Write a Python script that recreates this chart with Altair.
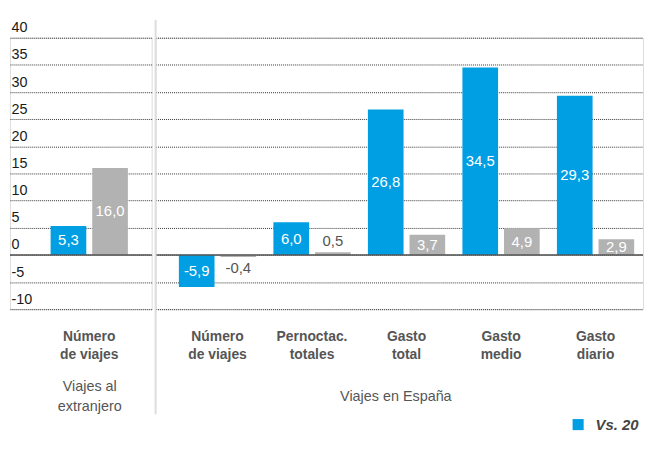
import altair as alt
import pandas as pd

# ---- data ----
series_names = ["Vs. 2019", "Vs. 2023"]
series_colors = ["#009fe3", "#b2b2b2"]

ext_categories = ["Número|de viajes"]
ext_blue = [5.3]
ext_gray = [16.0]

esp_categories = ["Número|de viajes", "Pernoctac.|totales", "Gasto|total", "Gasto|medio", "Gasto|diario"]
esp_blue = [-5.9, 6.0, 26.8, 34.5, 29.3]
esp_gray = [-0.4, 0.5, 3.7, 4.9, 2.9]

y_ticks = [-10, -5, 0, 5, 10, 15, 20, 25, 30, 35, 40]


def make_df(cats, blue, gray):
    rows = []
    for c, b, g in zip(cats, blue, gray):
        rows.append({"cat": c, "series": series_names[0], "value": b})
        rows.append({"cat": c, "series": series_names[1], "value": g})
    return pd.DataFrame(rows)


df_ext = make_df(ext_categories, ext_blue, ext_gray)
df_esp = make_df(esp_categories, esp_blue, esp_gray)

FONT = "Liberation Sans"
LABEL_EXPR = "(datum.value < 0 ? '-' : '') + replace(format(abs(datum.value), '.1f'), '.', ',')"

y_scale = alt.Scale(domain=[-10, 40], nice=False, zero=False)
color_scale = alt.Scale(domain=series_names, range=series_colors)

GRID = dict(grid=True, gridColor="#333333", gridDash=[1, 1], gridWidth=1)


def panel(df, cats, width, scale_x, left_axis, title, title_x, title_pad):
    x_axis = alt.Axis(
        title=title,
        titleX=title_x,
        titleAlign="center",
        titlePadding=title_pad,
        titleFont=FONT,
        titleFontSize=14.5,
        titleFontWeight="normal",
        titleColor="#555555",
        titleLineHeight=20,
        labelExpr="split(datum.label, '|')",
        labelAngle=0,
        labelFont=FONT,
        labelFontSize=14,
        labelFontWeight="bold",
        labelColor="#555555",
        labelLineHeight=18,
        labelPadding=21,
        labelLimit=0,
        ticks=False,
        domain=False,
        grid=False,
    )
    if left_axis:
        y_axis = alt.Axis(
            values=y_ticks,
            title=None,
            labelExpr="toString(datum.value)",
            labelAlign="left",
            labelBaseline="alphabetic",
            labelOffset=-6,
            labelPadding=-1,
            labelFont=FONT,
            labelFontSize=14.5,
            labelColor="#1a1a1a",
            labelFlush=False,
            labelOverlap=False,
            ticks=False,
            tickSize=0,
            domain=False,
            **GRID,
        )
    else:
        y_axis = alt.Axis(
            values=y_ticks,
            title=None,
            labels=False,
            ticks=False,
            tickSize=0,
            domain=False,
            **GRID,
        )

    base = alt.Chart(df).transform_calculate(
        label=LABEL_EXPR,
        mid="datum.value / 2",
    )

    def xx():
        return alt.X("cat:N", sort=cats, scale=scale_x, axis=x_axis)

    def xo():
        return alt.XOffset("series:N", sort=series_names,
                           scale=alt.Scale(paddingInner=0.143, paddingOuter=0))

    bars = base.mark_bar().encode(
        x=xx(),
        xOffset=xo(),
        y=alt.Y("value:Q", scale=y_scale, axis=y_axis),
        color=alt.Color(
            "series:N",
            scale=color_scale,
            legend=alt.Legend(
                title=None,
                values=[series_names[0]],
                orient="none",
                direction="horizontal",
                legendX=566,
                legendY=383,
                symbolType="square",
                symbolSize=125,
                symbolStrokeWidth=0,
                labelFont=FONT,
                labelFontSize=15,
                labelFontWeight="bold",
                labelFontStyle="italic",
                labelColor="#444444",
                labelOffset=10,
                labelLimit=44,
            ),
        ),
    )

    inside = base.transform_filter("abs(datum.value) >= 1").mark_text(
        color="white", font=FONT, fontSize=15, baseline="middle"
    ).encode(
        x=xx(), xOffset=xo(),
        y=alt.Y("mid:Q", scale=y_scale, axis=y_axis),
        text="label:N",
    )

    out_pos = base.transform_filter("datum.value >= 0 && datum.value < 1").mark_text(
        color="#555555", font=FONT, fontSize=15, baseline="bottom", dy=-3
    ).encode(
        x=xx(), xOffset=xo(),
        y=alt.Y("value:Q", scale=y_scale, axis=y_axis),
        text="label:N",
    )

    out_neg = base.transform_filter("datum.value < 0 && datum.value > -1").mark_text(
        color="#555555", font=FONT, fontSize=15, baseline="top", dy=4
    ).encode(
        x=xx(), xOffset=xo(),
        y=alt.Y("value:Q", scale=y_scale, axis=y_axis),
        text="label:N",
    )

    zero = alt.Chart(pd.DataFrame({"z": [0]})).mark_rule(color="#555555", strokeWidth=1.5).encode(
        y=alt.Y("z:Q", scale=y_scale, axis=y_axis)
    )

    layers = [bars, inside, out_pos, out_neg, zero]
    if not left_axis:
        divider = alt.Chart(pd.DataFrame({"z": [0]})).mark_rule(color="#dddddd", strokeWidth=2).encode(
            x=alt.value(0), y=alt.value(-18), y2=alt.value(380)
        )
        layers.append(divider)

    return alt.layer(*layers).properties(width=width, height=274)


left = panel(
    df_ext, ext_categories, 143,
    alt.Scale(paddingInner=0, paddingOuter=0.4167, align=0.631),
    True, ["Viajes al", "extranjero"], 80, 18,
)
right = panel(
    df_esp, esp_categories, 492,
    alt.Scale(paddingInner=0.1824, paddingOuter=0.1698, align=0.725),
    False, "Viajes en España", 242, 28,
)

chart = alt.hconcat(left, right, spacing=0).resolve_scale(color="shared").properties(
    padding={"top": 8, "left": 0, "right": 0, "bottom": 0}
).configure_view(stroke=None).configure(
    background="white",
    style={"guide-label": {"ellipsis": "\u200b"}},
)

chart.save("out.html", embed_options={"renderer": "svg", "actions": False})
